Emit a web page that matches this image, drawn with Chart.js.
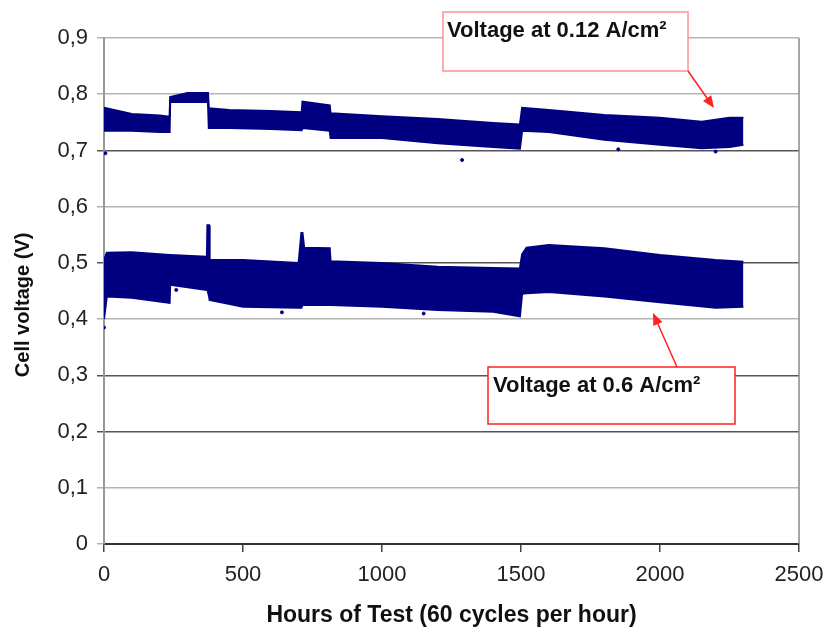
<!DOCTYPE html>
<html>
<head>
<meta charset="utf-8">
<script src="https://cdn.jsdelivr.net/npm/chart.js@4"></script>
<style>
  body { margin: 0; background: #fff; }
  #wrap { width: 828px; height: 631px; }
</style>
</head>
<body>
<div id="wrap"><canvas id="myChart" width="828" height="631"></canvas></div>
<script>
// band at 0.12 A/cm2 : hours and upper / lower edge of the point cloud
var hoursHigh = [0, 100, 200, 236, 238, 300, 374, 377, 450, 600, 711, 714, 812, 815, 1000, 1200, 1400, 1496, 1504, 1600, 1800, 2000, 2150, 2250, 2300];
var highTop   = [0.776, 0.765, 0.762, 0.760, 0.795, 0.802, 0.802, 0.775, 0.772, 0.770, 0.768, 0.787, 0.780, 0.766, 0.761, 0.756, 0.749, 0.746, 0.776, 0.772, 0.763, 0.758, 0.751, 0.758, 0.758];
var highBot   = [0.735, 0.735, 0.733, 0.733, 0.786, 0.786, 0.786, 0.740, 0.740, 0.738, 0.736, 0.740, 0.735, 0.722, 0.722, 0.713, 0.706, 0.703, 0.735, 0.733, 0.719, 0.710, 0.704, 0.706, 0.710];

// band at 0.6 A/cm2
var hoursLow = [0, 10, 100, 236, 238, 370, 372, 378, 380, 500, 700, 710, 714, 720, 812, 815, 1000, 1200, 1400, 1496, 1504, 1520, 1600, 1800, 2000, 2200, 2300];
var lowTop   = [0.505, 0.518, 0.519, 0.514, 0.514, 0.511, 0.567, 0.567, 0.505, 0.505, 0.500, 0.553, 0.553, 0.527, 0.526, 0.503, 0.500, 0.493, 0.491, 0.490, 0.515, 0.527, 0.532, 0.526, 0.514, 0.505, 0.502];
var lowBot   = [0.400, 0.440, 0.438, 0.429, 0.461, 0.452, 0.452, 0.440, 0.434, 0.422, 0.420, 0.420, 0.425, 0.425, 0.425, 0.425, 0.422, 0.416, 0.413, 0.405, 0.445, 0.446, 0.448, 0.440, 0.430, 0.420, 0.422];

// stray points outside the bands
var strayX = [0, 5, 1288, 1850, 2200, 640, 1150, 260];
var strayY = [0.385, 0.695, 0.683, 0.702, 0.698, 0.412, 0.410, 0.452];

var yTicks = [0, 0.1, 0.2, 0.3, 0.4, 0.5, 0.6, 0.7, 0.8, 0.9];
var darkGrid = [0.2, 0.3, 0.5, 0.7];

var navy = '#000080';

function pts(xs, ys) {
    return xs.map(function (x, i) { return { x: x, y: ys[i] }; });
}

function edge(label, xs, ys, fill) {
    return {
        label: label,
        data: pts(xs, ys),
        borderColor: navy,
        backgroundColor: navy,
        borderWidth: 2,
        pointRadius: 0,
        tension: 0,
        fill: fill
    };
}

// boxes, labels, arrows and the right border of the plot
var notes = {
    id: 'notes',
    afterDatasetsDraw: function (chart) {
        var c = chart.ctx, a = chart.chartArea;
        c.save();
        c.strokeStyle = '#888';
        c.lineWidth = 1.5;
        c.beginPath();
        c.moveTo(a.right, a.top);
        c.lineTo(a.right, a.bottom);
        c.stroke();

        var boxes = [
            { x: 443, y: 12, w: 245, h: 59, border: '#ff9090', text: 'Voltage at 0.12 A/cm²', tx: 447, ty: 37,
              from: [688, 71], to: [714, 108] },
            { x: 488, y: 367, w: 247, h: 57, border: '#ff2020', text: 'Voltage at 0.6 A/cm²', tx: 493, ty: 392,
              from: [677, 367], to: [653, 313] }
        ];
        boxes.forEach(function (b) {
            c.fillStyle = '#fff';
            c.fillRect(b.x, b.y, b.w, b.h);
            c.strokeStyle = b.border;
            c.lineWidth = 1.5;
            c.strokeRect(b.x, b.y, b.w, b.h);
            c.fillStyle = '#111';
            c.font = 'bold 22px "Liberation Sans", Arial, sans-serif';
            c.textBaseline = 'alphabetic';
            c.fillText(b.text, b.tx, b.ty);

            // arrow
            var dx = b.to[0] - b.from[0], dy = b.to[1] - b.from[1];
            var len = Math.sqrt(dx * dx + dy * dy);
            var ux = dx / len, uy = dy / len;
            c.strokeStyle = '#ff2020';
            c.fillStyle = '#ff2020';
            c.lineWidth = 1.5;
            c.beginPath();
            c.moveTo(b.from[0], b.from[1]);
            c.lineTo(b.to[0] - ux * 8, b.to[1] - uy * 8);
            c.stroke();
            c.beginPath();
            c.moveTo(b.to[0], b.to[1]);
            c.lineTo(b.to[0] - ux * 12 - uy * 5, b.to[1] - uy * 12 + ux * 5);
            c.lineTo(b.to[0] - ux * 12 + uy * 5, b.to[1] - uy * 12 - ux * 5);
            c.closePath();
            c.fill();
        });
        c.restore();
    }
};

var ctx = document.getElementById('myChart').getContext('2d');
var myChart = new Chart(ctx, {
    type: 'line',
    data: {
        datasets: [
            edge('0.12 bottom', hoursHigh, highBot, false),
            edge('Voltage at 0.12 A/cm²', hoursHigh, highTop, '-1'),
            edge('0.6 bottom', hoursLow, lowBot, false),
            edge('Voltage at 0.6 A/cm²', hoursLow, lowTop, '-1'),
            {
                type: 'scatter',
                label: 'stray',
                data: pts(strayX, strayY),
                backgroundColor: navy,
                borderColor: navy,
                pointRadius: 1.5,
                showLine: false
            }
        ]
    },
    plugins: [notes],
    options: {
        responsive: false,
        animation: false,
        maintainAspectRatio: false,
        layout: { padding: { top: 38, right: 29, left: 0, bottom: 0 } },
        plugins: {
            legend: { display: false },
            tooltip: { enabled: false }
        },
        scales: {
            x: {
                type: 'linear',
                min: 0,
                max: 2500,
                afterFit: function (s) { s.height = 87; s.paddingRight = 24; },
                ticks: {
                    stepSize: 500,
                    padding: 10,
                    color: '#222',
                    maxRotation: 0,
                    font: { family: '"Liberation Sans", Arial, sans-serif', size: 22 },
                    callback: function (v) { return String(v); }
                },
                grid: { drawOnChartArea: false, tickLength: 8, color: '#444', lineWidth: 1.5 },
                border: { color: '#333', width: 2 },
                title: {
                    display: true,
                    text: 'Hours of Test (60 cycles per hour)',
                    color: '#111',
                    padding: { top: 0, bottom: 2 },
                    font: { family: '"Liberation Sans", Arial, sans-serif', size: 23, weight: 'bold' }
                }
            },
            y: {
                min: 0,
                max: 0.9,
                afterFit: function (s) { s.width = 104; },
                afterBuildTicks: function (s) { s.ticks = yTicks.map(function (v) { return { value: v }; }); },
                ticks: {
                    padding: 9,
                    color: '#222',
                    font: { family: '"Liberation Sans", Arial, sans-serif', size: 22 },
                    callback: function (v) { return v === 0 ? '0' : v.toFixed(1).replace('.', ','); }
                },
                grid: {
                    tickLength: 7,
                    lineWidth: 1.5,
                    color: function (c) {
                        var v = c.tick ? Math.round(c.tick.value * 10) / 10 : -1;
                        return darkGrid.indexOf(v) >= 0 ? '#555' : '#b4b4b4';
                    }
                },
                border: { color: '#999', width: 2 },
                title: {
                    display: true,
                    text: 'Cell voltage (V)\u00a0\u00a0\u00a0\u00a0\u00a0',
                    color: '#111',
                    padding: { top: 11, bottom: 0 },
                    font: { family: '"Liberation Sans", Arial, sans-serif', size: 20, weight: 'bold' }
                }
            }
        }
    }
});
</script>
</body>
</html>
